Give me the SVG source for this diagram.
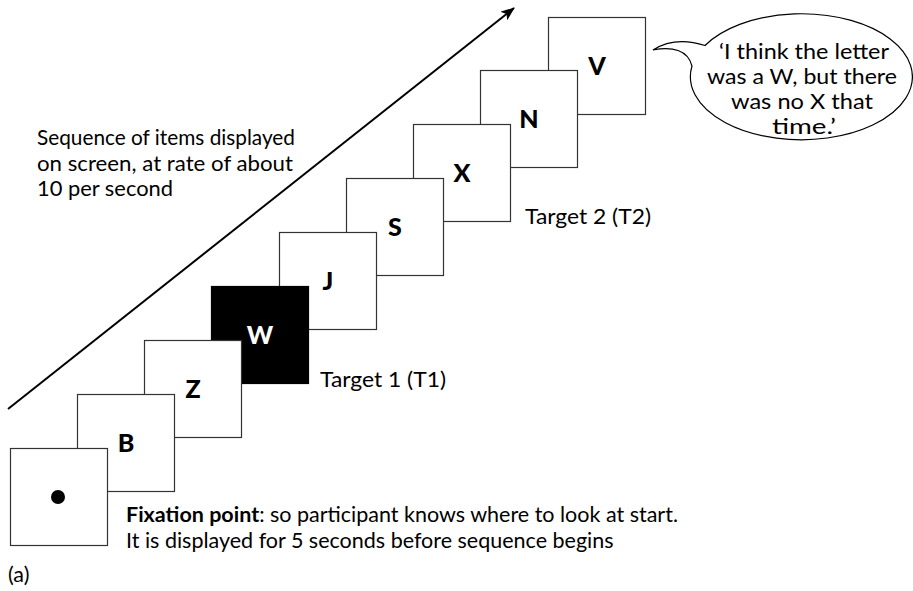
<svg xmlns="http://www.w3.org/2000/svg" width="913" height="591" viewBox="0 0 913 591">
<defs>
<marker id="ah" viewBox="0 0 14 11" refX="13" refY="5.5" markerWidth="14" markerHeight="11" markerUnits="userSpaceOnUse" orient="auto">
<path d="M0,0 L14,5.5 L0,11 L3.5,5.5 z" fill="#000"/>
</marker>
<style>
.sq{fill:#fff;stroke:#333;stroke-width:1.2}
.lt{font-family:Lato,"Open Sans","Liberation Sans",sans-serif;font-weight:900;font-size:25px;text-anchor:middle;fill:#000}
.tx{font-family:Lato,"Open Sans","Liberation Sans",sans-serif;font-size:21.5px;fill:#000}
.bt{font-family:Lato,"Open Sans","Liberation Sans",sans-serif;font-size:22px;fill:#000;text-anchor:middle}
</style>
</defs>
<rect width="913" height="591" fill="#fff"/>
<g id="connectors">
<line x1="8" y1="409" x2="514" y2="8" stroke="#000" stroke-width="2" marker-end="url(#ah)"/>
</g>
<g id="item-V"><rect class="sq" x="548.5" y="17.5" width="97" height="97"/><text class="lt" x="597" y="74.5">V</text></g>
<g id="item-N"><rect class="sq" x="480.5" y="70.5" width="97" height="97"/><text class="lt" x="529" y="127.5">N</text></g>
<g id="item-X"><rect class="sq" x="413.5" y="124.5" width="97" height="97"/><text class="lt" x="462" y="181.5">X</text></g>
<g id="item-S"><rect class="sq" x="346.5" y="178.5" width="97" height="97"/><text class="lt" x="395" y="235.5">S</text></g>
<g id="item-J"><rect class="sq" x="279.5" y="232.5" width="97" height="97"/><text class="lt" x="328" y="289.5">J</text></g>
<g id="item-W"><rect x="211.5" y="286.5" width="97" height="97" fill="#000" stroke="#000" stroke-width="1.2"/><text class="lt" x="260" y="343.5" style="fill:#fff">W</text></g>
<g id="item-Z"><rect class="sq" x="144.5" y="340.5" width="97" height="97"/><text class="lt" x="193" y="397.5">Z</text></g>
<g id="item-B"><rect class="sq" x="77.5" y="394.5" width="97" height="97"/><text class="lt" x="126" y="451.5">B</text></g>
<g id="item-fixation"><rect class="sq" x="10.5" y="448.5" width="97" height="97"/><circle cx="58" cy="497" r="7" fill="#000"/></g>
<g id="label-sequence">
<text class="tx" x="37" y="145" textLength="258" lengthAdjust="spacingAndGlyphs">Sequence of items displayed</text>
<text class="tx" x="37" y="171" textLength="256" lengthAdjust="spacingAndGlyphs">on screen, at rate of about</text>
<text class="tx" x="37" y="196" textLength="136" lengthAdjust="spacingAndGlyphs">10 per second</text>
</g>
<g id="label-t1"><text class="tx" x="320" y="387" textLength="126" lengthAdjust="spacingAndGlyphs">Target 1 (T1)</text></g>
<g id="label-t2"><text class="tx" x="525" y="224" textLength="126" lengthAdjust="spacingAndGlyphs">Target 2 (T2)</text></g>
<g id="label-fixation">
<text class="tx" x="126" y="522"><tspan font-weight="bold">Fixation point</tspan>: so participant knows where to look at start.</text>
<text class="tx" x="126" y="548">It is displayed for 5 seconds before sequence begins</text>
</g>
<g id="label-a"><text class="tx" x="8" y="582">(a)</text></g>
<g id="bubble">
<path d="M692,66 A111 63 0 1 0 705,45.5 Q675,36 653,50 C672,46 688,50 692,66 Z" fill="#fff" stroke="#000" stroke-width="1.2"/>
<text class="bt" x="804" y="59" textLength="170" lengthAdjust="spacingAndGlyphs">‘I think the letter</text>
<text class="bt" x="802" y="84" textLength="190" lengthAdjust="spacingAndGlyphs">was a W, but there</text>
<text class="bt" x="802" y="109" textLength="142" lengthAdjust="spacingAndGlyphs">was no X that</text>
<text class="bt" x="804" y="134" textLength="64" lengthAdjust="spacingAndGlyphs">time.’</text>
</g>
</svg>
